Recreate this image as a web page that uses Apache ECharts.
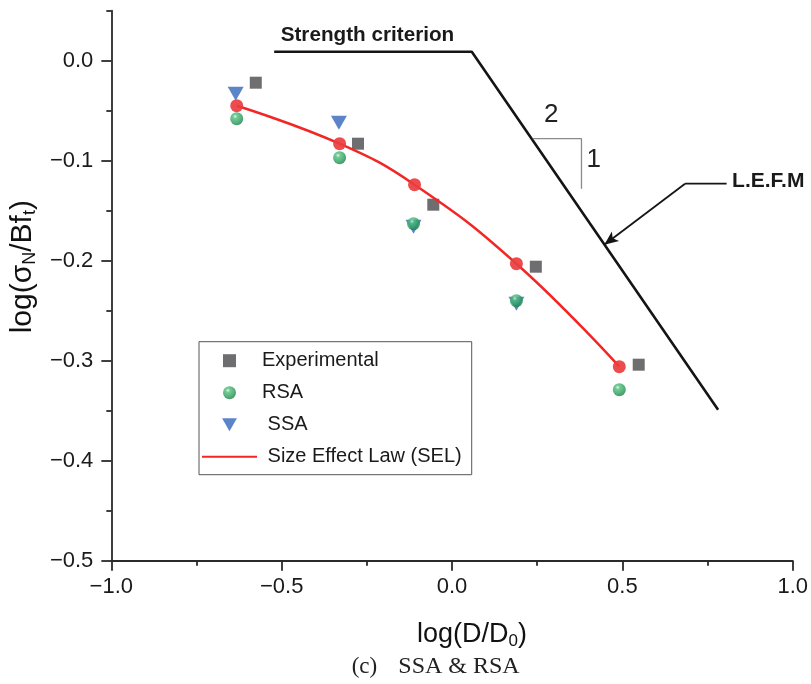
<!DOCTYPE html>
<html><head><meta charset="utf-8">
<script src="https://cdn.jsdelivr.net/npm/echarts@6/dist/echarts.min.js"></script>
<style>html,body{margin:0;padding:0;background:#fff}#c{width:811px;height:684px}</style>
</head><body><div id="c"></div>
<script>
// ---- data ----
const xTicks = [-1.0, -0.5, 0.0, 0.5, 1.0];
const yTicks = [-0.5, -0.4, -0.3, -0.2, -0.1, 0.0];
const yMinorTicks = [-0.45, -0.35, -0.25, -0.15, -0.05, 0.05];
const experimental = [[-0.576, -0.022], [-0.276, -0.083], [-0.055, -0.144], [0.246, -0.206], [0.548, -0.304]];
const rsa = [[-0.632, -0.058], [-0.330, -0.097], [-0.113, -0.163], [0.189, -0.240], [0.491, -0.329]];
const ssa = [[-0.635, -0.033], [-0.332, -0.062], [-0.113, -0.166], [0.189, -0.243]];
const sel = [[-0.632, -0.045], [-0.330, -0.083], [-0.110, -0.124], [0.189, -0.203], [0.491, -0.306]];
const strengthLEFM = [[-0.522, 0.009], [0.058, 0.009], [0.781, -0.349]];
const slopeMark = [[0.237, -0.078], [0.380, -0.078], [0.380, -0.128]];
const lefmLeader = [[0.806, -0.123], [0.684, -0.123]];
const lefmArrow = [[0.684, -0.123], [0.447, -0.184]];
const seriesNames = ['Experimental', 'RSA', ' SSA', ' Size Effect Law (SEL)'];

const FONT = 'Liberation Sans';
const fmt = v => (v < -1e-9 ? '\u2212' : '') + Math.abs(v).toFixed(1);
const axisColor = '#2a2a2a';

const greenBall = {
  type: 'radial', x: 0.38, y: 0.32, r: 0.7,
  colorStops: [{offset: 0, color: '#e6fbec'}, {offset: 0.22, color: '#52c07e'}, {offset: 0.7, color: '#2a9d5a'}, {offset: 1, color: '#1d7d45'}]
};

const option = {
  animation: false,
  backgroundColor: '#fff',
  grid: {left: 110, right: 17, top: 10.7, bottom: 123.3},
  legend: {
    orient: 'vertical', left: 199, top: 341.7,
    padding: [9, 10, 8, 2],
    borderColor: '#555', borderWidth: 1,
    itemWidth: 55, itemHeight: 13, itemGap: 12,
    textStyle: {fontFamily: FONT, fontSize: 20, color: '#1a1a1a', lineHeight: 20},
    data: [
      {name: seriesNames[0], icon: 'path://M0,0L10,0L10,10L0,10Z'},
      {name: seriesNames[1], icon: 'circle'},
      {name: seriesNames[2], icon: 'path://M0,0L16,0L8,14Z'},
      {name: seriesNames[3], itemStyle: {opacity: 0}}
    ]
  },
  xAxis: {
    type: 'value', min: -1, max: 1, interval: 0.5,
    axisLine: {show: true, onZero: false, lineStyle: {color: axisColor, width: 1.8}},
    axisTick: {show: true, length: 10, lineStyle: {color: axisColor, width: 1.8}},
    minorTick: {show: true, splitNumber: 2, length: 5, lineStyle: {color: axisColor, width: 1.8}},
    axisLabel: {customValues: xTicks, formatter: fmt, fontFamily: FONT, fontSize: 22, color: '#1a1a1a', margin: 15},
    splitLine: {show: false}, minorSplitLine: {show: false},
    name: '{a|log(D/D}{s|0}{a|)}', nameLocation: 'middle', nameGap: 59,
    nameTextStyle: {padding: [0, 0, 0, 40], rich: {
      a: {fontFamily: FONT, fontSize: 27, color: '#111', lineHeight: 30},
      s: {fontFamily: FONT, fontSize: 17, color: '#111', lineHeight: 30, verticalAlign: 'bottom', padding: [10, 0, 0, 0]}
    }}
  },
  yAxis: [{
    type: 'value', min: -0.5, max: 0.05,
    axisLine: {show: true, onZero: false, lineStyle: {color: axisColor, width: 1.8}},
    axisTick: {show: true, customValues: yTicks, length: 10, lineStyle: {color: axisColor, width: 1.8}},
    axisLabel: {customValues: yTicks, formatter: fmt, fontFamily: FONT, fontSize: 22, color: '#1a1a1a', margin: 18},
    splitLine: {show: false},
    name: '{a|log(σ}{s|N}{a|/Bf}{s|t}{a|)}', nameLocation: 'middle', nameGap: 66,
    nameTextStyle: {padding: [0, 0, 0, 38], rich: {
      a: {fontFamily: FONT, fontSize: 30, color: '#111', lineHeight: 32},
      s: {fontFamily: FONT, fontSize: 18, color: '#111', lineHeight: 32, verticalAlign: 'bottom', padding: [11, 0, 0, 0]}
    }}
  }, {
    type: 'value', min: -0.5, max: 0.05, position: 'left',
    axisLine: {show: false, onZero: false},
    axisTick: {show: true, customValues: yMinorTicks, length: 5, lineStyle: {color: axisColor, width: 1.8}},
    axisLabel: {show: false}, splitLine: {show: false}
  }],
  series: [
    {
      type: 'line', name: 'criteria', data: strengthLEFM, symbol: 'none', z: 1, silent: true,
      lineStyle: {color: '#151515', width: 2.6}
    },
    {
      type: 'line', name: 'slope', data: slopeMark, symbol: 'none', z: 1, silent: true,
      lineStyle: {color: '#8a8a8a', width: 1.3}
    },
    {
      type: 'line', name: 'leader', data: lefmLeader, symbol: 'none', z: 1, silent: true,
      lineStyle: {color: '#151515', width: 1.8},
      markLine: {
        silent: true, symbol: ['none', 'arrow'], symbolSize: [9, 14],
        label: {show: false},
        lineStyle: {color: '#151515', width: 1.8, type: 'solid'},
        emphasis: {disabled: true},
        data: [[{coord: lefmArrow[0]}, {coord: lefmArrow[1]}]]
      }
    },
    {
      type: 'scatter', name: seriesNames[2], data: ssa, z: 3,
      symbol: 'triangle', symbolRotate: 180, symbolSize: [16, 14],
      itemStyle: {color: '#3366bb'}
    },
    {
      type: 'scatter', name: seriesNames[1], data: rsa, z: 4,
      symbol: 'circle', symbolSize: 13,
      itemStyle: {color: greenBall}
    },
    {
      type: 'scatter', name: seriesNames[0], data: experimental, z: 4,
      symbol: 'rect', symbolSize: 12,
      itemStyle: {color: '#4a4a4c'}
    },
    {
      type: 'line', name: seriesNames[3], data: sel, z: 5,
      smooth: 0.45, symbol: 'none',
      lineStyle: {color: '#f32626', width: 2.5},
      itemStyle: {color: '#f32626'}
    },
    {
      type: 'scatter', name: 'SEL points', data: sel, z: 6,
      symbol: 'circle', symbolSize: 13,
      itemStyle: {color: '#ec3d3f', opacity: 0.92}
    }
  ]
};

const chart = echarts.init(document.getElementById('c'));
chart.setOption(option);
const P = d => chart.convertToPixel({xAxisIndex: 0, yAxisIndex: 0}, d);

function txt(pos, text, opts) {
  return {
    type: 'text', x: pos[0], y: pos[1], silent: true,
    style: Object.assign({text: text, fill: '#1a1a1a', fontFamily: FONT, fontSize: 20, align: 'left', verticalAlign: 'middle'}, opts || {})
  };
}
const sc = P([-0.503, 0.0257]);
const two = P([0.291, -0.054]);
const one = P([0.416, -0.099]);
const lefm = P([0.822, -0.121]);

chart.setOption({
  graphic: [
    txt(sc, 'Strength criterion', {fontWeight: 'bold', fontSize: 20.7}),
    txt(two, '2', {fontSize: 26, align: 'center', fill: '#222'}),
    txt(one, '1', {fontSize: 26, align: 'center', fill: '#222'}),
    txt(lefm, 'L.E.F.M', {fontWeight: 'bold', fontSize: 21}),
    txt([351.7, 667], '(c)', {fontFamily: 'Liberation Serif', fontSize: 23, fill: '#222'}),
    txt([398.3, 667], 'SSA & RSA', {fontFamily: 'Liberation Serif', fontSize: 24, fill: '#222'})
  ]
});
</script>
</body></html>
